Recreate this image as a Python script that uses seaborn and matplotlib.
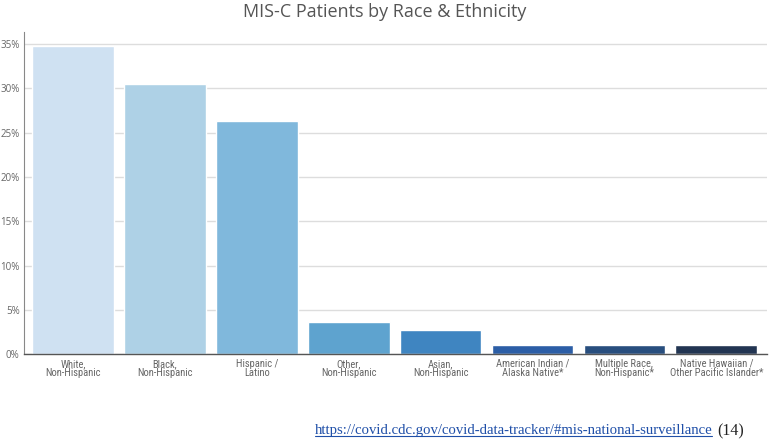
import matplotlib
matplotlib.use("Agg")
import matplotlib.pyplot as plt
import seaborn as sns
import pandas as pd
from matplotlib.ticker import FuncFormatter

# --- DATA ---
groups = ["White,\nNon-Hispanic", "Black,\nNon-Hispanic", "Hispanic /\nLatino",
          "Other,\nNon-Hispanic", "Asian,\nNon-Hispanic", "American Indian /\nAlaska Native*",
          "Multiple Race,\nNon-Hispanic*", "Native Hawaiian /\nOther Pacific Islander*"]
percent = [34.8, 30.5, 26.3, 3.6, 2.7, 1.0, 1.0, 1.0]
bar_colors = ["#cfe1f2", "#aed1e6", "#80b8dc", "#5ea3cf", "#3f85c1",
              "#2c5ea6", "#284e7e", "#223552"]
y_ticks = [0, 5, 10, 15, 20, 25, 30, 35]

df = pd.DataFrame({"group": groups, "percent": percent})

sns.set_style("white")
plt.rcParams['font.family'] = ['Open Sans', 'DejaVu Sans']

fig = plt.figure(figsize=(7.7, 4.42), dpi=100)
ax = fig.add_axes([0.031, 0.199, 0.965, 0.729])

sns.barplot(data=df, x="group", y="percent", hue="group", palette=bar_colors,
            legend=False, width=0.89, saturation=1, ax=ax, zorder=2)

ax.set_ylim(0, 36.4)
ax.set_xlim(-0.533, 7.55)
ax.set_yticks(y_ticks)
ax.yaxis.set_major_formatter(FuncFormatter(lambda v, p: f"{v:.0f}%"))
ax.grid(axis="y", color="#dddddd", lw=1, zorder=0)
ax.set_xlabel("")
ax.set_ylabel("")

for s in ["top", "right"]:
    ax.spines[s].set_visible(False)
ax.spines["left"].set_color("#888888")
ax.spines["bottom"].set_color("#555555")
ax.spines["left"].set_linewidth(0.8)
ax.spines["bottom"].set_linewidth(1.0)

ax.tick_params(axis="y", length=2, width=0.6, color="#888888", labelsize=7,
               labelcolor="#666666", pad=1)
ax.tick_params(axis="x", length=2.5, width=0.6, color="#888888", pad=1)
for lbl in ax.get_xticklabels():
    lbl.set_family(['Liberation Sans Narrow', 'Roboto Condensed', 'Liberation Sans'])
    lbl.set_fontsize(7.6)
    lbl.set_color("#666666")
    lbl.set_linespacing(0.92)

fig.text(0.5, 0.973, "MIS-C Patients by Race & Ethnicity", ha="center", va="center",
         fontsize=13, color="#555555")

# source line at the bottom
url = fig.text(0.925, 0.025, "https://covid.cdc.gov/covid-data-tracker/#mis-national-surveillance",
               ha="right", va="center", fontsize=10.6, color="#1f4fa8",
               family="Liberation Serif")
fig.canvas.draw()
bb = url.get_window_extent().transformed(fig.transFigure.inverted())
fig.add_artist(plt.Line2D([bb.x0, bb.x1], [bb.y0 + 0.003, bb.y0 + 0.003],
                          transform=fig.transFigure, color="#1f4fa8", lw=0.8))
fig.text(0.932, 0.025, "(14)", ha="left", va="center", fontsize=11.5, color="#222222",
         family="Liberation Serif")

fig.savefig("out.png", dpi=100)
